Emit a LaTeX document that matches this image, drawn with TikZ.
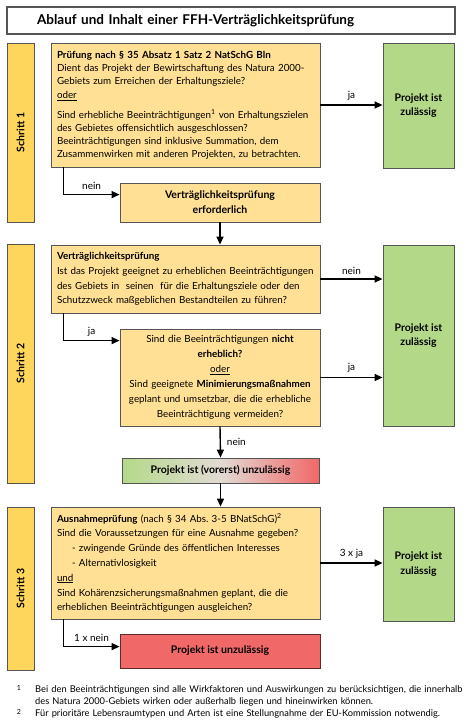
\documentclass[tikz,border=0pt]{standalone}
\usepackage{fontspec}
\setmainfont{Lato}
\usepackage{graphicx}
\usetikzlibrary{arrows.meta,calc}
\definecolor{box-yellow}{RGB}{255,224,148}
\definecolor{step-yellow}{RGB}{255,214,92}
\definecolor{ok-green}{RGB}{179,217,136}
\definecolor{no-red}{RGB}{240,104,104}
\definecolor{mid-grey}{RGB}{226,218,212}
\definecolor{line-grey}{RGB}{85,85,85}
\tikzstyle{titlebox}=[draw=line-grey, line width=1.2pt, minimum width=448pt, minimum height=27pt, text width=388pt, inner xsep=30pt, align=left, font=\bfseries\fontsize{13.5}{15}\selectfont]
\tikzstyle{yellowbox}=[draw=line-grey, line width=0.8pt, fill=box-yellow, inner xsep=6pt, inner ysep=0pt]
\tikzstyle{stepbar}=[draw=line-grey, line width=0.8pt, fill=step-yellow, minimum width=27pt, inner sep=0pt, font=\bfseries\fontsize{10.5}{12}\selectfont]
\tikzstyle{okbox}=[draw=line-grey, line width=0.8pt, fill=ok-green, minimum width=71pt, align=center, font=\bfseries\fontsize{10.5}{14.5}\selectfont]
\tikzstyle{arr}=[line width=1.4pt, -{Triangle[length=8pt,width=7pt]}]
\tikzstyle{lbl}=[font=\fontsize{10}{11}\selectfont, inner sep=1pt]
\newcommand{\stepBar}[4]{
	\node[stepbar, minimum height=#3pt] (#1) at (20.5,#2) {\rotatebox{90}{#4}};
}
\newcommand{\fillLine}[1]{\makebox[\hsize][s]{#1}}

\begin{document}
\begin{tikzpicture}[x=1pt,y=-1pt]
	\useasboundingbox (0,0) rectangle (474,728);
	\node[titlebox] (title) at (231,20.5) {Ablauf und Inhalt einer FFH-Verträglichkeitsprüfung};
	% Schritt 1
	\stepBar{s1}{132.5}{179}{Schritt 1}
	\node[yellowbox, text width=257pt, minimum height=124pt, align=left, font=\fontsize{9.8}{13}\selectfont] (pruef) at (185.5,105) {%
		\textbf{Prüfung nach § 35 Absatz 1 Satz 2 NatSchG Bln}\\
		\fillLine{Dient das Projekt der Bewirtschaftung des Natura 2000-}\\
		Gebiets zum Erreichen der Erhaltungsziele?\\[1pt]
		\underline{oder}\\[7pt]
		\fillLine{Sind erhebliche Beeinträchtigungen\textsuperscript{1} von Erhaltungszielen}\\
		des Gebietes offensichtlich ausgeschlossen?\\
		Beeinträchtigungen sind inklusive Summation, dem\\
		Zusammenwirken mit anderen Projekten, zu betrachten.};
	\node[okbox, minimum height=125pt] (zul1) at (418.5,105.5) {Projekt ist\\zulässig};
	\node[yellowbox, minimum width=200pt, minimum height=39pt, align=center, font=\bfseries\fontsize{10.5}{15}\selectfont] (erf) at (220,202.5) {Verträglichkeitsprüfung\\erforderlich};
	\draw[arr] (pruef.east) -- node[lbl, above=3pt] {ja} (pruef.east -| zul1.west);
	\draw[arr] ([xshift=13pt]pruef.south west) |- node[lbl, pos=0.75, above=3pt] {nein} ([yshift=-12pt]erf.north west);
	% Schritt 2
	\stepBar{s2}{363.5}{239}{Schritt 2}
	\node[yellowbox, text width=257pt, minimum height=68pt, align=left, font=\fontsize{9.8}{14.7}\selectfont] (vp) at (185.5,279) {%
		\textbf{Verträglichkeitsprüfung}\\
		\fillLine{Ist das Projekt geeignet zu erheblichen Beeinträchtigungen}\\
		des Gebiets in \ seinen \ für die Erhaltungsziele oder den\\
		Schutzzweck maßgeblichen Bestandteilen zu führen?};
	\node[okbox, minimum height=181pt] (zul2) at (418.5,335.5) {Projekt ist\\zulässig};
	\node[yellowbox, text width=188pt, minimum height=97pt, align=center, font=\fontsize{9.8}{15}\selectfont] (erh) at (220,377.5) {%
		Sind die Beeinträchtigungen \textbf{nicht}\\
		\textbf{erheblich?}\\
		\underline{oder}\\
		Sind geeignete \textbf{Minimierungsmaßnahmen}\\
		geplant und umsetzbar, die die erhebliche\\
		Beeinträchtigung vermeiden?};
	\node[draw=line-grey, line width=0.8pt, left color=ok-green, right color=no-red, middle color=mid-grey, minimum width=197pt, minimum height=25pt, font=\bfseries\fontsize{10.5}{12}\selectfont] (vorerst) at (220.5,470.5) {Projekt ist (vorerst) unzulässig};
	\draw[arr] (erf.south) -- (erf.south |- vp.north);
	\draw[arr] (vp.east) -- node[lbl, above=3pt] {nein} (vp.east -| zul2.west);
	\draw[arr] ([xshift=13pt]vp.south west) |- node[lbl, pos=0.75, above=3pt] {ja} ([yshift=-12pt]erh.north west);
	\draw[arr] (erh.east) -- node[lbl, above=3pt] {ja} (erh.east -| zul2.west);
	\draw[arr] (erh.south) -- node[lbl, right=5pt] {nein} (vorerst.north);
	% Schritt 3
	\stepBar{s3}{588.5}{163}{Schritt 3}
	\node[yellowbox, text width=257pt, minimum height=112pt, align=left, font=\fontsize{9.8}{14.8}\selectfont] (ausn) at (185.5,563) {%
		\textbf{Ausnahmeprüfung} (nach § 34 Abs.\ 3-5 BNatSchG)\textsuperscript{2}\\
		Sind die Voraussetzungen für eine Ausnahme gegeben?\\
		\hspace*{15pt}- zwingende Gründe des öffentlichen Interesses\\
		\hspace*{15pt}- Alternativlosigkeit\\
		\underline{und}\\
		Sind Kohärenzsicherungsmaßnahmen geplant, die die\\
		erheblichen Beeinträchtigungen ausgleichen?};
	\node[okbox, minimum height=114pt] (zul3) at (418.5,564) {Projekt ist\\zulässig};
	\node[draw=black!60!no-red, line width=0.8pt, fill=no-red, minimum width=200pt, minimum height=34pt, font=\bfseries\fontsize{10.5}{12}\selectfont] (unz) at (220,651) {Projekt ist unzulässig};
	\draw[arr] (vorerst.south) -- (vorerst.south |- ausn.north);
	\draw[arr] (ausn.east) -- node[lbl, above=3pt] {3 x ja} (ausn.east -| zul3.west);
	\draw[arr] ([xshift=13pt]ausn.south west) |- node[lbl, pos=0.75, above=3pt] {1 x nein} ([yshift=-13pt]unz.north west);
	% Fussnoten
	\node[font=\fontsize{7}{8}\selectfont] (fn1) at (19,688) {1};
	\node[anchor=north west, inner sep=0pt, text width=436pt, align=left, font=\fontsize{9.3}{12}\selectfont] (fntext1) at (35,685) {Bei den Beeinträchtigungen sind alle Wirkfaktoren und Auswirkungen zu berücksichtigen, die innerhalb\\des Natura 2000-Gebiets wirken oder außerhalb liegen und hineinwirken können.};
	\node[font=\fontsize{7}{8}\selectfont] (fn2) at (19,712) {2};
	\node[anchor=north west, inner sep=0pt, text width=436pt, align=left, font=\fontsize{9.3}{12}\selectfont] (fntext2) at (35,709) {Für prioritäre Lebensraumtypen und Arten ist eine Stellungnahme der EU-Kommission notwendig.};
\end{tikzpicture}
\end{document}
